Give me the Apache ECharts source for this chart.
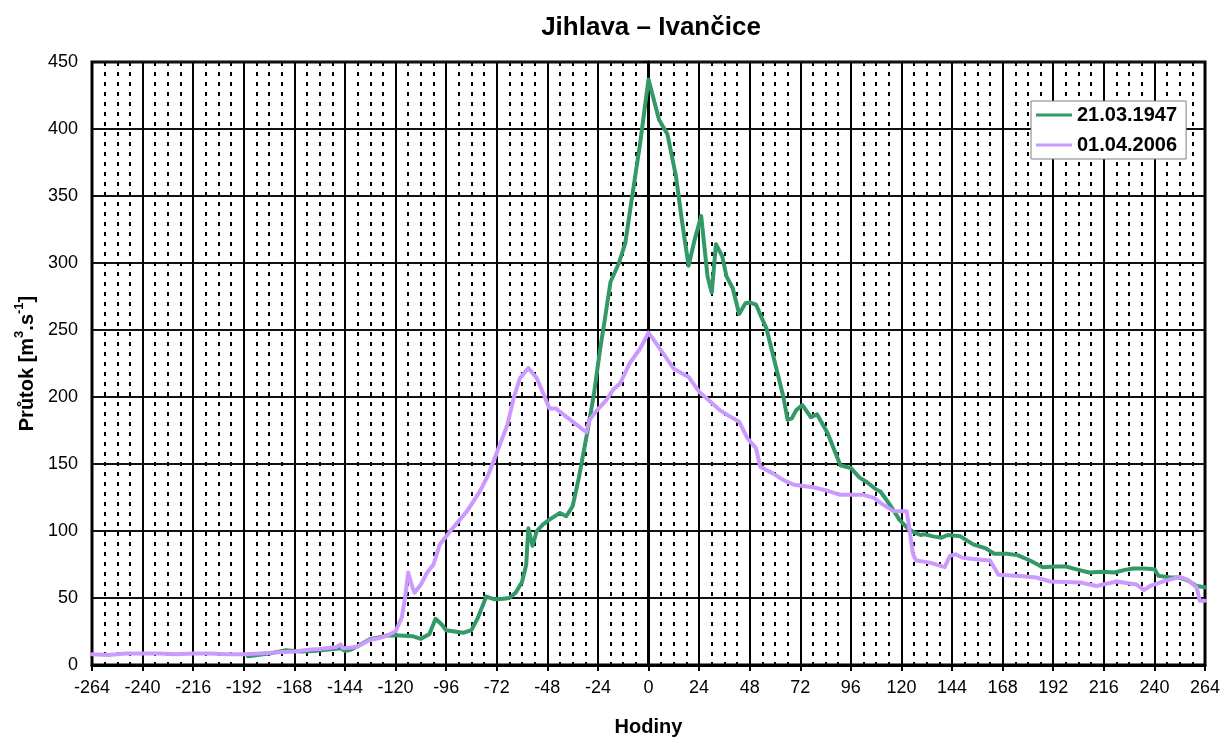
<!DOCTYPE html>
<html>
<head>
<meta charset="utf-8">
<script src="https://cdn.jsdelivr.net/npm/echarts@6/dist/echarts.min.js"></script>
<style>
html,body{margin:0;padding:0;background:#fff;}
#c{width:1232px;height:742px;}
</style>
</head>
<body>
<div id="c"></div>
<script>
const titleText = 'Jihlava – Ivančice';
const xName = 'Hodiny';
const seriesNames = ['21.03.1947', '01.04.2006'];

const h1947 = [-190,-180,-172,-165,-159,-152,-146,-144,-141,-138,-132,-128,-124,-118,-112,-108,-104,-101,-98,-96,-92,-88,-84,-81,-79,-77,-73,-69,-66,-63,-60,-58,-57,-55,-53,-50,-47,-42,-39,-36,-33,-29,-26,-23,-21,-18,-14,-11,-8,-4,0,5,9,13,16,19,22,25,28,30,32,35,37,40,43,46,48,51,54,56,61,64,66,68,70,73,77,80,85,91,96,100,104,108,110,115,119,123,126,129,131,135,139,142,148,154,160,164,170,175,181,187,193,198,204,209,215,221,226,230,235,240,242,247,252,256,260,264];
const q1947 = [6.5,8.5,11,10,10.5,11.5,12.5,10.5,11.5,14,19.5,20.5,22,22,21.5,19.5,23,34.5,30,26,25,24,26,35,43,51,49,49.5,50,54,62,75,102,89,100,105,108.5,113.5,111,118.5,140,174,201,235,255,286,300,315,347,389,437,407,396,365,330,298,318,335,290,278,314,305,290,281,262,270,270.5,269,258,251,219,200,183,184,190,194,185,187,173,149,147,140,136,131,129.5,118.5,108.5,102,99,97,97.5,96,95,97,96,90,87,83,83,82,78,73,73.5,73.5,71,69,69.5,69,71,72,72,71.5,66.5,65.5,65.3,63,59,58];

const h2006 = [-264,-256,-248,-240,-232,-224,-216,-208,-200,-192,-185,-175,-168,-160,-156,-148,-146,-145,-141,-138,-132,-128,-124,-120,-117,-115.5,-114,-112,-111,-108,-105,-102,-99,-94,-86,-80,-76,-73.5,-67,-64,-61,-57,-53,-50,-47,-44,-40,-36,-29.5,-28,-24.5,-20,-16.5,-13.5,-9,-4,0,5,12,19,24,29,34,38,43,47,51,53,59,64,69,78,85,91,97,102,107,110,116,122.5,125.5,127,133.5,140.5,143,145.5,149,155,162,166,176,184,190.5,197,205,212.5,222,231.5,235,238,244,252,256,260,261.5,264];
const q2006 = [8,7.5,8.5,8.5,8.5,8,8.5,8.5,8,8,8.5,9.6,10,11.5,12,13.5,15.4,12.5,13,13.8,18.8,20,22,25,35.6,50,69,58,54,60,69,75,90,100,115,129.6,142,152,179,199,214,221.7,214,203,191.5,191.5,186.5,181.6,173.7,182.8,190,197.6,206,210,225,236,248,237,221,215,204,197,190,186,181.6,169,161.8,148,143,138,134.5,132.6,130,127,127,127,124.7,121,115,114.8,82.6,78,76.4,73,81.4,82.6,80,79,78,67.3,66.5,65.3,62.3,62,61.6,59,62.3,60,56,59,62.3,65.8,63.3,58,48,48];

const xMin = -264, xMax = 264, xStep = 24;
const yMin = 0, yMax = 450, yStep = 50;

function pairs(h, q){ return h.map((v,i)=>[v,q[i]]); }

const chart = echarts.init(document.getElementById('c'), null, {renderer:'canvas'});
const FONT = 'Liberation Sans, Arial, sans-serif';
chart.setOption({
  animation:false,
  backgroundColor:'#fff',
  textStyle:{fontFamily:FONT},
  title:{
    text:titleText, left:651, top:15, textAlign:'center', padding:0,
    textStyle:{fontFamily:FONT, fontSize:26, fontWeight:'bold', color:'#000'}
  },
  grid:{left:92, right:27, top:62, bottom:74, show:true, borderColor:'#000', borderWidth:3, backgroundColor:'#fff'},
  legend:{
    orient:'vertical', left:1031, top:101,
    padding:[4,9,4,5], itemGap:10, itemWidth:36, itemHeight:3,
    backgroundColor:'#fff', borderColor:'#808080', borderWidth:1, borderRadius:0,
    textStyle:{fontFamily:FONT, fontSize:20, fontWeight:'bold', color:'#000'},
    data:[{name:seriesNames[0], icon:'rect'},{name:seriesNames[1], icon:'rect'}]
  },
  xAxis:{
    type:'value', min:xMin, max:xMax, interval:xStep,
    name:xName, nameLocation:'middle', nameGap:52,
    nameTextStyle:{fontFamily:FONT, fontSize:20, fontWeight:'bold', color:'#000'},
    axisLine:{onZero:false, lineStyle:{color:'#000', width:3}},
    axisTick:{show:true, inside:false, length:6, lineStyle:{color:'#000', width:2}},
    axisLabel:{margin:14, fontFamily:FONT, fontSize:18, color:'#000'},
    splitLine:{show:true, lineStyle:{color:'#000', width:2}},
    minorTick:{show:false, splitNumber:4},
    minorSplitLine:{show:true, lineStyle:{color:'#000', width:2, type:[4,6]}}
  },
  yAxis:{
    type:'value', min:yMin, max:yMax, interval:yStep,
    name:'{b|Průtok [m}{s|3}{b|.s}{s|-1}{b|]}', nameLocation:'middle', nameGap:54, nameRotate:90,
    nameTextStyle:{
      rich:{
        b:{fontFamily:FONT, fontSize:20, fontWeight:'bold', color:'#000', lineHeight:24, verticalAlign:'bottom'},
        s:{fontFamily:FONT, fontSize:13, fontWeight:'bold', color:'#000', lineHeight:14, verticalAlign:'top'}
      }
    },
    axisLine:{show:true, lineStyle:{color:'#000', width:3}},
    axisTick:{show:true, inside:false, length:6, lineStyle:{color:'#000', width:2}},
    axisLabel:{margin:14, fontFamily:FONT, fontSize:18, color:'#000'},
    splitLine:{show:true, lineStyle:{color:'#111', width:2}}
  },
  series:[
    {name:seriesNames[0], type:'line', data:pairs(h1947,q1947), showSymbol:false, symbol:'none',
     lineStyle:{color:'#339966', width:4, join:'round', cap:'round'}, itemStyle:{color:'#339966'}, z:3},
    {name:seriesNames[1], type:'line', data:pairs(h2006,q2006), showSymbol:false, symbol:'none',
     lineStyle:{color:'#CC99FF', width:4, join:'round', cap:'round'}, itemStyle:{color:'#CC99FF'}, z:4}
  ]
});
</script>
</body>
</html>
